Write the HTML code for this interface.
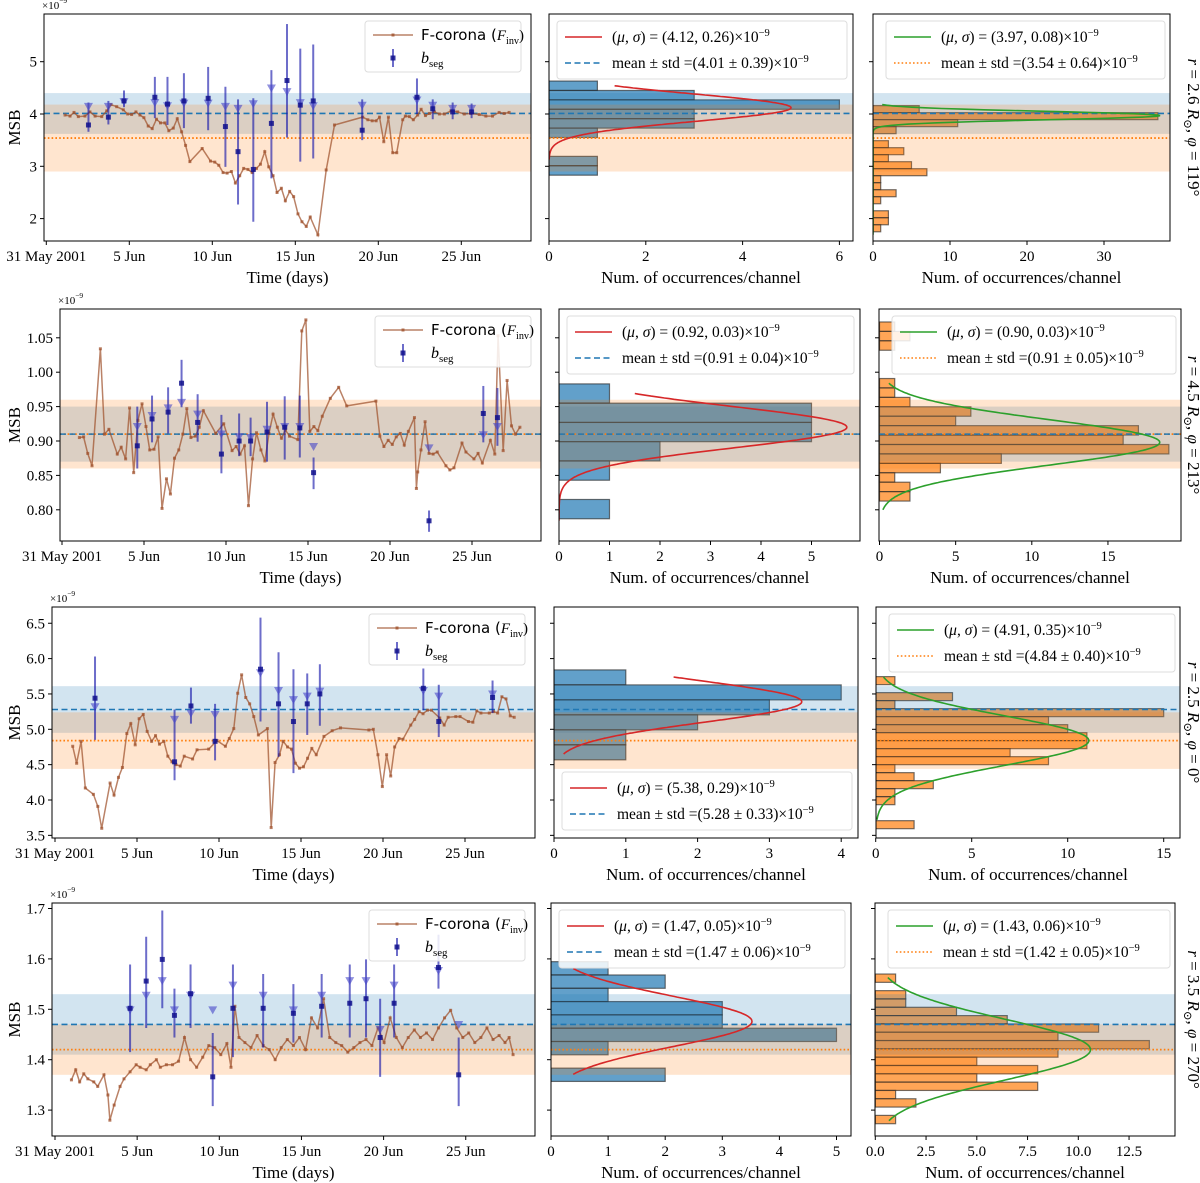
<!DOCTYPE html>
<html><head><meta charset="utf-8"><style>
html,body{margin:0;padding:0;background:#fff;}
svg{display:block;font-family:"Liberation Serif","DejaVu Serif",serif;}
</style></head><body>
<svg id="chart" width="1200" height="1183" viewBox="0 0 1200 1183" xmlns="http://www.w3.org/2000/svg"></svg>
<script>
// ---------- DATA ----------
const tickDays=[0,5,10,15,20,25];
const tickDayLabels=["31 May 2001","5 Jun","10 Jun","15 Jun","20 Jun","25 Jun"];

const fcDays1=[1.13,1.43,1.67,1.93,2.33,2.63,2.94,3.34,3.64,3.9,4.24,4.64,4.9,5.14,5.4,5.64,5.88,6.14,6.38,6.64,6.88,7.14,7.38,7.65,7.89,8.15,8.39,8.65,9.39,9.89,10.15,10.39,10.65,10.89,11.15,11.39,11.65,11.89,12.15,12.4,12.66,12.9,13.16,13.4,13.66,13.9,14.16,14.4,14.66,14.9,15.16,15.4,15.66,15.9,16.36,16.86,17.36,19.06,19.37,19.63,19.87,20.07,20.33,20.61,20.87,21.11,21.47,21.63,21.87,22.11,22.37,22.58,22.84,23.08,23.38,23.68,23.98,24.38,24.78,25.18,25.58,26.08,26.48,26.88,27.28,27.58,27.88];
const fcVals1=[3.98,3.96,4.03,3.95,3.96,4.04,3.96,3.95,4.06,4.18,4.14,4.08,4.0,3.99,4.04,3.98,3.93,3.77,3.72,3.9,3.83,3.83,3.68,3.73,3.91,3.66,3.4,3.09,3.34,3.1,3.08,3.02,2.88,2.87,2.9,2.68,2.82,2.96,2.94,2.88,2.96,3.04,3.28,2.99,2.82,2.5,2.58,2.34,2.52,2.42,2.09,1.94,1.85,2.03,1.69,2.93,3.79,3.94,3.89,3.87,3.87,3.94,3.47,3.94,3.26,3.26,3.89,3.96,3.95,3.89,3.98,4.09,3.97,4.01,4.04,4.0,4.0,4.06,4.04,4.0,4.01,3.99,3.96,3.96,4.03,4.01,4.03];
const bsDays1=[2.54,3.74,4.68,6.54,7.3,8.29,9.75,10.79,11.55,12.47,13.56,14.5,15.3,16.08,19.03,22.33,23.28,24.48,25.62];
const bsVals1=[3.79,3.94,4.25,4.32,4.19,4.25,4.3,3.76,3.28,2.94,3.82,4.64,4.17,4.25,3.69,4.32,4.1,4.04,4.04];
const bsLo1=[3.66,3.8,4.13,3.92,3.79,3.73,3.69,2.99,2.27,1.94,2.77,3.55,3.09,3.15,3.5,4.0,3.9,3.9,3.92];
const bsHi1=[4.22,4.25,4.45,4.71,4.71,4.78,4.9,4.52,4.28,4.3,4.84,5.72,5.25,5.33,4.28,4.68,4.28,4.22,4.2];
const bsLim1=[4.08,4.08,4.17,4.15,4.09,4.14,4.14,4.08,4.04,4.13,4.43,4.36,4.15,4.09,4.1,4.2,4.1,4.04,4.04];

const fcDays2=[1.06,1.32,1.57,1.83,2.34,2.59,2.86,3.37,3.61,3.88,4.12,4.37,4.63,4.88,5.12,5.35,5.61,5.86,6.1,6.37,6.61,6.86,7.12,7.37,7.61,7.86,8.13,8.37,8.62,9.37,9.86,10.37,10.62,10.86,11.13,11.37,11.62,11.86,12.13,12.37,12.62,12.87,13.13,13.38,13.62,13.87,14.38,14.62,14.87,15.11,15.36,15.6,15.87,16.36,16.87,17.36,19.14,19.38,19.63,19.89,20.14,20.38,20.63,20.87,21.12,21.49,21.61,21.69,21.89,22.14,22.38,22.63,22.88,23.41,23.65,23.9,24.39,24.63,25.12,25.37,25.63,26.12,26.39,26.59,26.9,27.14,27.41,27.65,27.92];
const fcVals2=[0.905,0.906,0.882,0.864,1.034,0.91,0.917,0.881,0.891,0.874,0.948,0.854,0.93,0.954,0.921,0.887,0.888,0.906,0.802,0.845,0.823,0.875,0.887,0.91,0.947,0.905,0.907,0.92,0.944,0.911,0.925,0.886,0.892,0.881,0.893,0.806,0.874,0.912,0.887,0.871,0.911,0.939,0.92,0.904,0.916,0.907,0.902,1.06,1.076,0.914,0.921,0.915,0.936,0.962,0.978,0.951,0.958,0.907,0.892,0.901,0.895,0.906,0.911,0.894,0.914,0.934,0.831,0.855,0.887,0.928,0.882,0.881,0.884,0.864,0.858,0.861,0.897,0.884,0.874,0.882,0.868,0.901,0.881,1.053,0.886,0.988,0.922,0.91,0.92];
const bsDays2=[4.59,5.49,6.47,7.29,8.27,9.72,10.8,11.5,12.5,13.58,14.5,15.34,22.38,25.69,26.55];
const bsVals2=[0.893,0.932,0.942,0.984,0.927,0.881,0.9,0.9,0.913,0.92,0.919,0.854,0.784,0.94,0.934];
const bsLo2=[0.86,0.898,0.911,0.949,0.899,0.853,0.878,0.878,0.87,0.873,0.876,0.83,0.768,0.898,0.893];
const bsHi2=[0.95,0.966,0.978,1.018,0.968,0.938,0.94,0.934,0.957,0.965,0.966,0.876,0.799,0.98,0.977];
const bsLim2=[0.916,0.932,0.943,0.951,0.934,0.905,0.901,0.9,0.912,0.916,0.916,0.887,0.885,0.904,0.916];

const fcDays3=[1.08,1.32,1.59,1.85,2.34,2.61,2.85,3.36,3.6,3.87,4.11,4.38,4.62,4.89,5.13,5.38,5.62,5.89,6.13,6.37,6.64,6.88,7.13,7.37,7.64,7.88,8.39,8.66,9.37,9.88,10.39,10.63,10.9,11.14,11.38,11.63,11.87,12.12,12.4,12.95,13.18,13.42,13.69,13.91,14.18,14.42,14.66,14.91,15.15,15.4,15.66,15.93,16.4,16.9,17.41,19.14,19.41,19.69,19.96,20.22,20.47,20.71,20.98,21.22,21.69,21.93,22.2,22.44,22.71,22.95,23.46,23.73,23.97,24.44,24.7,25.21,25.48,25.72,25.97,26.48,26.74,26.99,27.25,27.5,27.76,28.0];
const fcVals3=[4.76,4.52,4.83,4.17,4.08,3.91,3.6,4.24,4.07,4.32,4.46,4.94,5.08,4.78,5.15,5.21,4.97,4.83,4.91,4.79,4.83,4.62,4.54,4.5,4.48,4.62,4.58,4.71,4.72,4.84,4.76,4.87,5.01,5.51,5.77,5.45,5.36,5.18,4.92,5.01,3.61,4.53,4.64,4.83,4.75,4.72,4.52,4.45,4.47,4.59,4.73,4.64,4.9,4.98,5.02,4.99,5.0,4.64,4.19,4.64,4.34,4.75,4.87,4.86,5.06,5.14,5.25,5.22,5.27,5.27,5.16,5.06,5.17,5.18,5.18,5.11,5.1,5.26,5.23,5.23,5.25,5.23,5.46,5.43,5.19,5.17];
const bsDays3=[2.44,7.29,8.29,9.76,12.53,13.63,14.54,15.38,16.15,22.46,23.4,26.68];
const bsVals3=[5.44,4.54,5.33,4.83,5.85,5.36,5.11,5.36,5.5,5.58,5.11,5.45];
const bsLo3=[4.85,4.28,5.08,4.56,5.11,4.61,4.38,4.92,5.05,5.27,4.89,5.23];
const bsHi3=[6.03,5.28,5.59,5.36,6.58,6.09,5.85,5.79,5.92,5.86,5.63,5.69];
const bsLim3=[5.27,5.09,5.18,5.16,5.75,5.5,5.37,5.42,5.49,5.5,5.42,5.45];

const fcDays4=[1.0,1.26,1.5,1.75,2.0,2.36,2.6,2.98,3.22,3.34,3.6,3.96,4.2,4.57,4.94,5.18,5.55,5.8,6.17,6.41,6.78,7.15,7.52,7.88,8.25,8.62,8.99,9.36,9.72,10.09,10.46,10.71,10.95,11.2,11.56,11.93,12.3,12.67,13.04,13.4,13.77,14.14,14.51,14.88,15.25,15.61,15.98,16.35,16.72,17.09,17.45,17.82,18.19,18.56,18.93,19.29,19.66,20.03,20.4,20.77,21.14,21.5,21.87,22.24,22.61,22.98,23.34,23.71,24.08,24.45,24.82,25.18,25.55,25.92,26.29,26.66,27.03,27.39,27.64,27.88];
const fcVals4=[1.36,1.38,1.356,1.372,1.362,1.356,1.347,1.37,1.33,1.28,1.31,1.347,1.362,1.376,1.39,1.385,1.38,1.39,1.4,1.385,1.39,1.39,1.397,1.444,1.4,1.385,1.405,1.428,1.424,1.41,1.432,1.385,1.506,1.444,1.434,1.424,1.448,1.428,1.42,1.4,1.424,1.44,1.428,1.444,1.42,1.483,1.463,1.521,1.444,1.434,1.428,1.415,1.424,1.434,1.44,1.428,1.463,1.434,1.483,1.444,1.424,1.444,1.459,1.444,1.453,1.44,1.463,1.483,1.498,1.463,1.444,1.453,1.434,1.444,1.463,1.44,1.448,1.434,1.444,1.41];
const bsDays4=[4.57,5.55,6.53,7.27,8.25,9.6,10.83,12.67,14.51,16.23,17.94,18.93,19.79,20.64,23.34,24.57];
const bsVals4=[1.502,1.556,1.599,1.488,1.531,1.366,1.502,1.502,1.492,1.506,1.512,1.521,1.444,1.512,1.583,1.37];
const bsLo4=[1.415,1.463,1.502,1.444,1.463,1.308,1.405,1.424,1.434,1.444,1.444,1.444,1.366,1.444,1.541,1.308];
const bsHi4=[1.589,1.644,1.696,1.541,1.589,1.453,1.589,1.57,1.55,1.57,1.589,1.599,1.521,1.589,1.648,1.444];
const bsLim4=[1.492,1.521,1.55,1.492,1.521,1.492,1.541,1.521,1.492,1.521,1.55,1.55,1.453,1.541,1.57,1.463];

const midStart=[4.63,0.983,5.84,1.5945];
const midWidth=[0.18,0.028,0.212,0.0264];
const midCounts1=[1,3,6,3,3,1,0,0,1,1];
const midCounts2=[1,5,5,2,1,0,1];
const midCounts3=[1,4,3,2,1,1];
const midCounts4=[1,2,1,3,3,5,1,0,2];
const rightStart=[4.16,1.073,5.745,1.57];
const rightWidth=[0.134,0.0137,0.1132,0.0165];
const rightCounts1=[6,37,11,3,0,2,4,2,5,7,1,1,3,1,0,2,2,1];
const rightCounts2=[1,2,1,0,0,0,1,1,2,6,5,17,16,19,8,4,1,2,2];
const rightCounts3=[1,0,4,1,15,9,10,11,11,7,9,1,2,3,1,1,0,0,2];
const rightCounts4=[1,0,1.5,1.5,4,6.5,11,9,13.5,9,5,8,5,8,1,2,0,1];

const redAmp=[5.0,5.7,3.45,3.52], redMu=[4.12,0.92,5.39,1.476], redSig=[0.26,0.03,0.29,0.05], redLo=[3.13,0.784,4.65,1.371], redHi=[4.54,0.969,5.74,1.581];
const greenAmp=[37.3,18.4,11.1,10.6], greenMu=[3.97,0.898,4.84,1.42], greenSig=[0.08,0.033,0.35,0.06], greenLo=[1.69,0.8,3.72,1.279], greenHi=[4.18,0.984,5.74,1.563];
const blueMean=[4.01,0.91,5.28,1.47], blueStd=[0.39,0.04,0.33,0.06];
const orMean=[3.54,0.91,4.84,1.42], orStd=[0.64,0.05,0.40,0.05];
const redLabel=["(4.12, 0.26)","(0.92, 0.03)","(5.38, 0.29)","(1.47, 0.05)"];
const blueLabel=["(4.01 ± 0.39)","(0.91 ± 0.04)","(5.28 ± 0.33)","(1.47 ± 0.06)"];
const greenLabel=["(3.97, 0.08)","(0.90, 0.03)","(4.91, 0.35)","(1.43, 0.06)"];
const orLabel=["(3.54 ± 0.64)","(0.91 ± 0.05)","(4.84 ± 0.40)","(1.42 ± 0.05)"];
const rLabel=["2.6","4.5","2.5","3.5"], phiLabel=["119","213","0","270"];
const yTicks1=[2,3,4,5], yTicks2=[0.80,0.85,0.90,0.95,1.00,1.05], yTicks3=[3.5,4.0,4.5,5.0,5.5,6.0,6.5], yTicks4=[1.3,1.4,1.5,1.6,1.7];
const yTickLabels1=["2","3","4","5"], yTickLabels2=["0.80","0.85","0.90","0.95","1.00","1.05"], yTickLabels3=["3.5","4.0","4.5","5.0","5.5","6.0","6.5"], yTickLabels4=["1.3","1.4","1.5","1.6","1.7"];
const midTicks1=[0,2,4,6], midTicks2=[0,1,2,3,4,5], midTicks3=[0,1,2,3,4], midTicks4=[0,1,2,3,4,5];
const rightTicks1=[0,10,20,30], rightTicks2=[0,5,10,15], rightTicks3=[0,5,10,15], rightTicks4=[0,2.5,5,7.5,10,12.5];
const rightTickLabels4=["0.0","2.5","5.0","7.5","10.0","12.5"];

// ---------- LAYOUT ----------
const rows=[
 {top:14,bot:241,yRef:114,vRef:4,vpx:52.3,L:[44,531],d0:46.3,dpx:16.6,M:[549,853],c0:549,cpx:48.4,Rr:[873,1170],r0:873,rpx:7.7,
  fcD:fcDays1,fcV:fcVals1,bD:bsDays1,bV:bsVals1,bL:bsLo1,bH:bsHi1,bA:bsLim1,yt:yTicks1,ytl:yTickLabels1,mc:midCounts1,rc:rightCounts1,mt:midTicks1,rt:rightTicks1,rtl:null,midLegBottom:false},
 {top:309,bot:541,yRef:441,vRef:0.9,vpx:688,L:[60,541],d0:62,dpx:16.4,M:[559,860],c0:559,cpx:50.5,Rr:[879,1181],r0:879.5,rpx:15.23,
  fcD:fcDays2,fcV:fcVals2,bD:bsDays2,bV:bsVals2,bL:bsLo2,bH:bsHi2,bA:bsLim2,yt:yTicks2,ytl:yTickLabels2,mc:midCounts2,rc:rightCounts2,mt:midTicks2,rt:rightTicks2,rtl:null,midLegBottom:false},
 {top:607,bot:838,yRef:729.3,vRef:5,vpx:70.7,L:[52,535],d0:55,dpx:16.4,M:[554,858],c0:554,cpx:71.8,Rr:[876,1180],r0:875.7,rpx:19.2,
  fcD:fcDays3,fcV:fcVals3,bD:bsDays3,bV:bsVals3,bL:bsLo3,bH:bsHi3,bA:bsLim3,yt:yTicks3,ytl:yTickLabels3,mc:midCounts3,rc:rightCounts3,mt:midTicks3,rt:rightTicks3,rtl:null,midLegBottom:true},
 {top:903,bot:1136,yRef:1009.3,vRef:1.5,vpx:504,L:[52,535],d0:55,dpx:16.43,M:[551,851],c0:551,cpx:57.1,Rr:[875,1175],r0:875.3,rpx:20.3,
  fcD:fcDays4,fcV:fcVals4,bD:bsDays4,bV:bsVals4,bL:bsLo4,bH:bsHi4,bA:bsLim4,yt:yTicks4,ytl:yTickLabels4,mc:midCounts4,rc:rightCounts4,mt:midTicks4,rt:rightTicks4,rtl:rightTickLabels4,midLegBottom:false}
];

const NS="http://www.w3.org/2000/svg";
const svg=document.getElementById("chart");
function mk(tag,attrs,parent){const e=document.createElementNS(NS,tag);for(const k in attrs)e.setAttribute(k,attrs[k]);(parent||svg).appendChild(e);return e;}
function rich(parent,x,y,parts,size,anchor){
  const t=mk("text",{x:x,y:y,"font-size":size,"text-anchor":anchor||"start",fill:"#000"},parent);
  let shift=0;
  parts.forEach(p=>{
    const s=mk("tspan",{},t);
    s.textContent=p[0];
    const st=p[1]||"";
    let target=0;
    if(st.includes("sub"))target=4;
    if(st.includes("sup"))target=-6;
    if(target!==shift){s.setAttribute("dy",target-shift);shift=target;}
    if(st.includes("sub")||st.includes("sup"))s.setAttribute("font-size",size*0.68);
    if(st.includes("i"))s.setAttribute("font-style","italic");
    if(st.includes("sans"))s.setAttribute("font-family","'DejaVu Sans','Liberation Sans',sans-serif");
  });
  return t;
}
const gauss=(c,a,m,s)=>a*Math.exp(-((c-m)*(c-m))/(2*s*s));
const TICK_OFF=20, TITLE_OFF=42;

rows.forEach((R,ri)=>{
  const yy=v=>R.yRef+(R.vRef-v)*R.vpx;
  const xd=d=>R.d0+d*R.dpx;
  const xm=c=>R.c0+c*R.cpx;
  const xr=c=>R.r0+c*R.rpx;
  const H=R.bot-R.top;
  const bm=blueMean[ri],bsd=blueStd[ri],om=orMean[ri],osd=orStd[ri];

  const row=mk("g",{});
  
  

  ["L","M","Rr"].forEach(k=>{
    const cp=mk("clipPath",{id:"c"+ri+k});
    mk("rect",{x:R[k][0],y:R.top,width:R[k][1]-R[k][0],height:H},cp);
  });

  function bands(g,x0,x1){
    const b=mk("rect",{x:x0,y:yy(bm+bsd),width:x1-x0,height:yy(bm-bsd)-yy(bm+bsd),fill:"rgba(31,119,180,0.2)"},g);
    
    
    const o=mk("rect",{x:x0,y:yy(om+osd),width:x1-x0,height:yy(om-osd)-yy(om+osd),fill:"rgba(255,127,14,0.2)"},g);
    
    
  }
  function meanLines(g,x0,x1){
    const l1=mk("line",{x1:x0,x2:x1,y1:yy(om),y2:yy(om),stroke:"#ff7f0e","stroke-width":1.8,"stroke-dasharray":"1.6,2.2"},g);
    
    
    const l2=mk("line",{x1:x0,x2:x1,y1:yy(bm),y2:yy(bm),stroke:"#1f77b4","stroke-width":1.6,"stroke-dasharray":"6,3.5"},g);
    
    
  }
  function yticks(g,x0,labels){
    R.yt.forEach((v,i)=>{
      mk("line",{x1:x0-4,x2:x0,y1:yy(v),y2:yy(v),stroke:"#000","stroke-width":1},g);
      if(labels){const t=mk("text",{x:x0-7,y:yy(v)+5,"font-size":15,"text-anchor":"end"},g);t.textContent=R.ytl[i];
        
        }
    });
  }
  function frame(g,x0,x1){
    const f=mk("rect",{x:x0,y:R.top,width:x1-x0,height:H,fill:"none",stroke:"#000","stroke-width":1},g);
    
    
  }

  // ---- LEFT time series ----
  const gl=mk("g",{},row);
  
  
  const glc=mk("g",{"clip-path":"url(#c"+ri+"L)"},gl);
  bands(glc,R.L[0],R.L[1]);
  meanLines(glc,R.L[0],R.L[1]);
  const n=Math.min(R.fcD.length,R.fcV.length);
  let pts=[];for(let i=0;i<n;i++)pts.push(xd(R.fcD[i]).toFixed(1)+","+yy(R.fcV[i]).toFixed(1));
  const pl=mk("polyline",{points:pts.join(" "),fill:"none",stroke:"rgba(160,82,45,0.72)","stroke-width":1.5},glc);
  
  
  for(let i=0;i<n;i++){
    const m=mk("rect",{x:xd(R.fcD[i])-1.5,y:yy(R.fcV[i])-1.5,width:3,height:3,fill:"rgba(160,82,45,0.75)"},glc);
    
    
  }
  for(let i=0;i<R.bD.length;i++){
    const x=xd(R.bD[i]);
    const eb=mk("line",{x1:x,x2:x,y1:yy(R.bH[i]),y2:yy(R.bL[i]),stroke:"rgba(20,20,170,0.62)","stroke-width":2},glc);
    
    
    if(R.bA[i]!==null){
      const ya=yy(R.bA[i]);
      const tr=mk("polygon",{points:(x-4.5)+","+(ya-7)+" "+(x+4.5)+","+(ya-7)+" "+x+","+(ya+1),fill:"rgba(70,70,200,0.6)"},glc);
      
      
    }
    const p=mk("rect",{x:x-2.5,y:yy(R.bV[i])-2.5,width:5,height:5,fill:"rgba(15,15,140,0.85)"},glc);
    
    
  }
  yticks(gl,R.L[0],true);
  tickDays.forEach((d,i)=>{
    mk("line",{x1:xd(d),x2:xd(d),y1:R.bot,y2:R.bot+4,stroke:"#000"},gl);
    const t=mk("text",{x:xd(d),y:R.bot+TICK_OFF,"font-size":15,"text-anchor":"middle"},gl);t.textContent=tickDayLabels[i];
    
    
  });
  const xt=mk("text",{x:(R.L[0]+R.L[1])/2,y:R.bot+TITLE_OFF,"font-size":17,"text-anchor":"middle"},gl);xt.textContent="Time (days)";
  
  
  const yl=mk("text",{x:0,y:0,"font-size":17,"text-anchor":"middle",transform:"translate(20,"+((R.top+R.bot)/2)+") rotate(-90)"},gl);yl.textContent="MSB";
  
  
  const ex=rich(gl,R.L[0]-2,R.top-5,[["×10"],["−9","sup"]],11,"start");
  
  
  const lg=mk("g",{},gl);
  
  
  const lx=R.L[1]-166, ly=R.top+7;
  mk("rect",{x:lx,y:ly,width:156,height:51,rx:3,fill:"rgba(255,255,255,0.85)",stroke:"#ddd"},lg);
  mk("line",{x1:lx+8,x2:lx+48,y1:ly+14,y2:ly+14,stroke:"rgba(160,82,45,0.72)","stroke-width":1.5},lg);
  mk("rect",{x:lx+26.5,y:ly+12.5,width:3,height:3,fill:"rgba(160,82,45,0.8)"},lg);
  rich(lg,lx+56,ly+19,[["F-corona (","sans"],["F","i"],["inv","sub"],[")",""]],15,"start");
  mk("line",{x1:lx+28,x2:lx+28,y1:ly+28,y2:ly+46,stroke:"rgba(20,20,170,0.62)","stroke-width":2},lg);
  mk("rect",{x:lx+25.5,y:ly+34.5,width:5,height:5,fill:"rgba(15,15,140,0.85)"},lg);
  rich(lg,lx+56,ly+42,[["b","i"],["seg","sub"]],16,"start");
  frame(gl,R.L[0],R.L[1]);

  // ---- histogram panels ----
  function hist(kind){
    const isMid=kind==="M";
    const X=isMid?R.M:R.Rr, xs=isMid?xm:xr;
    const counts=isMid?R.mc:R.rc, start=isMid?midStart[ri]:rightStart[ri], w=isMid?midWidth[ri]:rightWidth[ri];
    const g=mk("g",{},row);
    
    
    const gc=mk("g",{"clip-path":"url(#c"+ri+kind+")"},g);
    counts.forEach((c,i)=>{
      if(c<=0)return;
      const vt=start-i*w, vb=start-(i+1)*w;
      const b=mk("rect",{x:xs(0),y:yy(vt),width:xs(c)-xs(0),height:yy(vb)-yy(vt),
        fill:isMid?"rgba(31,119,180,0.7)":"rgba(255,127,14,0.7)",stroke:"rgba(40,40,40,0.65)","stroke-width":1.2},gc);
      
      
    });
    bands(gc,X[0],X[1]);
    meanLines(gc,X[0],X[1]);
    const A=isMid?redAmp[ri]:greenAmp[ri],mu=isMid?redMu[ri]:greenMu[ri],sg=isMid?redSig[ri]:greenSig[ri];
    const lo=isMid?redLo[ri]:greenLo[ri],hi=isMid?redHi[ri]:greenHi[ri];
    let cp=[];for(let k=0;k<=200;k++){const v=lo+(hi-lo)*k/200;cp.push(xs(gauss(v,A,mu,sg)).toFixed(1)+","+yy(v).toFixed(1));}
    const cv=mk("polyline",{points:cp.join(" "),fill:"none",stroke:isMid?"#d62728":"#2ca02c","stroke-width":1.6},gc);
    
    
    yticks(g,X[0],false);
    const ticks=isMid?R.mt:R.rt;
    ticks.forEach((c,i)=>{
      mk("line",{x1:xs(c),x2:xs(c),y1:R.bot,y2:R.bot+4,stroke:"#000"},g);
      const t=mk("text",{x:xs(c),y:R.bot+TICK_OFF,"font-size":15,"text-anchor":"middle"},g);
      t.textContent=(!isMid&&R.rtl)?R.rtl[i]:String(c);
      
      
    });
    const tt=mk("text",{x:(X[0]+X[1])/2,y:R.bot+TITLE_OFF,"font-size":17,"text-anchor":"middle"},g);tt.textContent="Num. of occurrences/channel";
    
    
    const lg=mk("g",{},g);
    
    
    const lx=isMid?X[0]+8:X[0]+13, lw=isMid?(X[1]-X[0]-14):(X[1]-X[0]-18);
    const ly=(isMid&&R.midLegBottom)?R.bot-66:R.top+7;
    mk("rect",{x:lx,y:ly,width:lw,height:58,rx:3,fill:"rgba(255,255,255,0.85)",stroke:"#ddd"},lg);
    mk("line",{x1:lx+8,x2:lx+45,y1:ly+16,y2:ly+16,stroke:isMid?"#d62728":"#2ca02c","stroke-width":1.6},lg);
    mk("line",{x1:lx+8,x2:lx+45,y1:ly+42,y2:ly+42,stroke:isMid?"#1f77b4":"#ff7f0e","stroke-width":1.6,"stroke-dasharray":isMid?"6,3.5":"1.6,2.2"},lg);
    rich(lg,lx+55,ly+21,[["("],["μ","i"],[", "],["σ","i"],[") = "+(isMid?redLabel[ri]:greenLabel[ri])+"×10"],["−9","sup"]],15.5,"start");
    rich(lg,lx+55,ly+47,[["mean ± std ="+(isMid?blueLabel[ri]:orLabel[ri])+"×10"],["−9","sup"]],15.5,"start");
    frame(g,X[0],X[1]);
  }
  hist("M");hist("Rr");

  const cy=(R.top+R.bot)/2;
  const rl=rich(row,0,0,[["r","i"],[" = "+rLabel[ri]+" "],["R","i"],["⊙","sub"],[", "],["φ","i"],[" = "+phiLabel[ri]+"°"]],17,"middle");
  rl.setAttribute("transform","translate(1188,"+cy+") rotate(90)");
  
  
});
</script>
</body></html>
